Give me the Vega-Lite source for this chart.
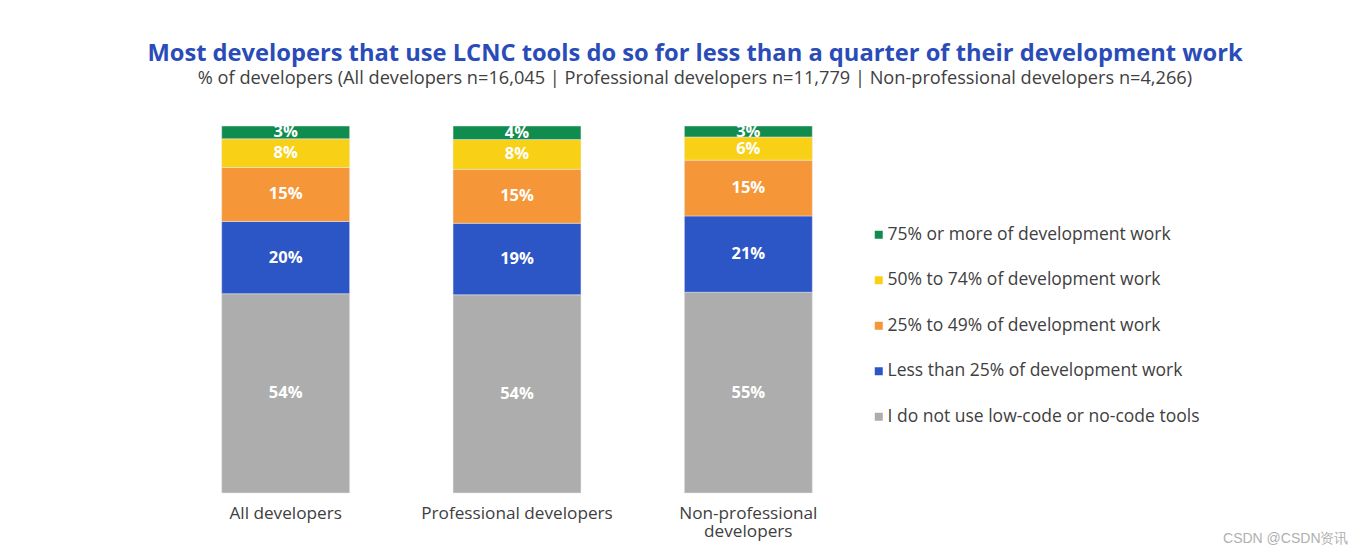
{
  "$schema": "https://vega.github.io/schema/vega-lite/v6.json",
  "autosize": {"type": "none"},
  "padding": {"left": 170, "top": 126, "right": 500, "bottom": 62},
  "width": 694,
  "height": 367,
  "background": "white",
  "config": {"view": {"stroke": null}},
  "title": {
    "text": "Most developers that use LCNC tools do so for less than a quarter of their development work",
    "subtitle": "% of developers (All developers n=16,045 | Professional developers n=11,779 | Non-professional developers n=4,266)",
    "anchor": "middle",
    "frame": "bounds",
    "dx": -64,
    "font": "Open Sans",
    "fontSize": 23.7,
    "fontWeight": "bold",
    "color": "#2a4cb8",
    "subtitleFont": "Open Sans",
    "subtitleFontSize": 18.2,
    "subtitleColor": "#404040",
    "subtitlePadding": 5,
    "offset": 36
  },
  "data": {
    "values": [
      {"group": "All developers", "category": "I do not use low-code or no-code tools", "rank": 1, "value": 54.3, "label": "54%"},
      {"group": "All developers", "category": "Less than 25% of development work", "rank": 2, "value": 19.7, "label": "20%"},
      {"group": "All developers", "category": "25% to 49% of development work", "rank": 3, "value": 14.7, "label": "15%"},
      {"group": "All developers", "category": "50% to 74% of development work", "rank": 4, "value": 7.8, "label": "8%"},
      {"group": "All developers", "category": "75% or more of development work", "rank": 5, "value": 3.5, "label": "3%"},
      {"group": "Professional developers", "category": "I do not use low-code or no-code tools", "rank": 1, "value": 54.0, "label": "54%"},
      {"group": "Professional developers", "category": "Less than 25% of development work", "rank": 2, "value": 19.5, "label": "19%"},
      {"group": "Professional developers", "category": "25% to 49% of development work", "rank": 3, "value": 14.7, "label": "15%"},
      {"group": "Professional developers", "category": "50% to 74% of development work", "rank": 4, "value": 8.1, "label": "8%"},
      {"group": "Professional developers", "category": "75% or more of development work", "rank": 5, "value": 3.7, "label": "4%"},
      {"group": "Non-professional developers", "category": "I do not use low-code or no-code tools", "rank": 1, "value": 54.7, "label": "55%"},
      {"group": "Non-professional developers", "category": "Less than 25% of development work", "rank": 2, "value": 20.8, "label": "21%"},
      {"group": "Non-professional developers", "category": "25% to 49% of development work", "rank": 3, "value": 15.2, "label": "15%"},
      {"group": "Non-professional developers", "category": "50% to 74% of development work", "rank": 4, "value": 6.3, "label": "6%"},
      {"group": "Non-professional developers", "category": "75% or more of development work", "rank": 5, "value": 3.0, "label": "3%"}
    ]
  },
  "transform": [
    {"stack": "value", "groupby": ["group"], "sort": [{"field": "rank", "order": "ascending"}], "as": ["y0", "y1"]},
    {"calculate": "(datum.y0 + datum.y1) / 2", "as": "ymid"}
  ],
  "encoding": {
    "x": {
      "field": "group",
      "type": "nominal",
      "sort": ["All developers", "Professional developers", "Non-professional developers"],
      "scale": {"paddingInner": 0.447, "paddingOuter": 0.2235},
      "axis": {
        "title": "CSDN @CSDN资讯",
        "titleFont": "Liberation Sans",
        "titleFontSize": 14,
        "titleFontWeight": "normal",
        "titleColor": "#b0b0b0",
        "titleAnchor": "end",
        "titleAlign": "right",
        "titleBaseline": "alphabetic",
        "titleX": 1178,
        "titleY": 49,
        "labelAngle": 0,
        "labelFont": "Open Sans",
        "labelFontSize": 17.2,
        "labelColor": "#404040",
        "labelPadding": 11,
        "labelLineHeight": 18,
        "labelLimit": 0,
        "labelOverlap": false,
        "labelExpr": "datum.value == 'Non-professional developers' ? ['Non-professional', 'developers'] : datum.value",
        "domain": false,
        "ticks": false
      }
    }
  },
  "layer": [
    {
      "mark": {"type": "bar", "stroke": "#e8e8e8", "strokeWidth": 0.5},
      "encoding": {
        "y": {"field": "y0", "type": "quantitative", "scale": {"domain": [0, 100], "nice": false}, "axis": null},
        "y2": {"field": "y1"},
        "color": {
          "field": "category",
          "type": "nominal",
          "scale": {
            "domain": [
              "75% or more of development work",
              "50% to 74% of development work",
              "25% to 49% of development work",
              "Less than 25% of development work",
              "I do not use low-code or no-code tools"
            ],
            "range": ["#118c4f", "#f8d015", "#f59638", "#2c55c5", "#adadad"]
          },
          "legend": {
            "title": null,
            "orient": "none",
            "legendX": 700,
            "legendY": 100,
            "padding": 0,
            "symbolType": "square",
            "symbolSize": 64,
            "symbolStrokeWidth": 0,
            "labelFont": "Open Sans",
            "labelFontSize": 17.5,
            "labelColor": "#404040",
            "labelOffset": 0,
            "labelLimit": 0,
            "rowPadding": 26.5
          }
        }
      }
    },
    {
      "mark": {"type": "text", "font": "Open Sans", "fontSize": 16.5, "fontWeight": "bold", "color": "white", "baseline": "middle"},
      "encoding": {
        "y": {"field": "ymid", "type": "quantitative"},
        "text": {"field": "label", "type": "nominal"}
      }
    }
  ]
}
